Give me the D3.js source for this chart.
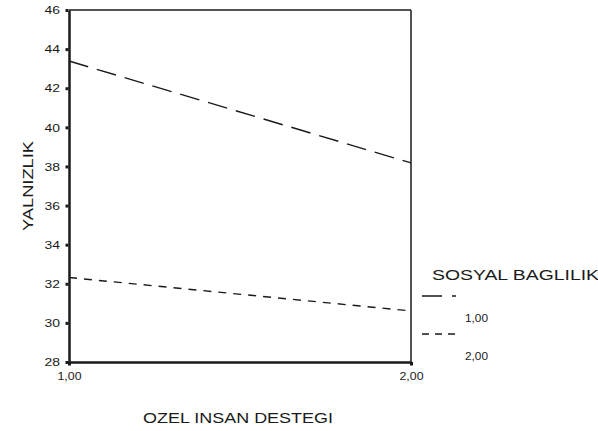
<!DOCTYPE html>
<html><head><meta charset="utf-8">
<script src="https://cdn.jsdelivr.net/npm/d3@7"></script>
<style>html,body{margin:0;padding:0;background:#fff;} svg{display:block;font-family:"Liberation Sans",Arial,sans-serif;}</style>
</head><body><div id="chart"></div>
<script>
const xValues = [1, 2];
const xTickLabels = ["1,00", "2,00"];
const yTickValues = [28, 30, 32, 34, 36, 38, 40, 42, 44, 46];
const seriesNames = ["1,00", "2,00"];
const series1 = [43.39, 38.18];
const series2 = [32.32, 30.61];
const xTitle = "OZEL INSAN DESTEGI";
const yTitle = "YALNIZLIK";
const legendTitle = "SOSYAL BAGLILIK";

const W = 598, H = 431;
const svg = d3.select("#chart").append("svg").attr("width", W).attr("height", H);
const x = d3.scaleLinear().domain([1, 2]).range([69, 411]);
const y = d3.scaleLinear().domain([28, 46]).range([362, 10]);
const ink = "#1a1a1a";

// frame
svg.append("line").attr("x1", x(1)).attr("x2", x(2)).attr("y1", y(46)).attr("y2", y(46)).attr("stroke", ink).attr("stroke-width", 1.5);
svg.append("line").attr("x1", x(2)).attr("x2", x(2)).attr("y1", y(46)).attr("y2", y(28)).attr("stroke", ink).attr("stroke-width", 1.5);

// y axis
const yAxis = svg.append("g").attr("transform", `translate(${x(1)},0)`)
  .call(d3.axisLeft(y).tickValues(yTickValues).tickSize(0).tickPadding(9).tickFormat(d3.format("d")));
yAxis.select(".domain").attr("stroke", ink).attr("stroke-width", 2.5);
yAxis.selectAll("text").attr("font-size", 11.5).attr("fill", ink).attr("font-family", "Liberation Sans, Arial, sans-serif")
  .attr("textLength", 15.5).attr("lengthAdjust", "spacingAndGlyphs");
yAxis.selectAll(".tick").append("rect").attr("x", -3.5).attr("y", -1.5).attr("width", 3).attr("height", 3).attr("fill", ink);

// x axis
const xAxis = svg.append("g").attr("transform", `translate(0,${y(28)})`)
  .call(d3.axisBottom(x).tickValues(xValues).tickSize(0).tickPadding(10).tickFormat((d, i) => xTickLabels[i]));
xAxis.select(".domain").attr("stroke", ink).attr("stroke-width", 2.5);
xAxis.selectAll("text").attr("font-size", 11.5).attr("fill", ink).attr("font-family", "Liberation Sans, Arial, sans-serif")
  .attr("textLength", 24).attr("lengthAdjust", "spacingAndGlyphs");
xAxis.selectAll(".tick").append("rect").attr("x", -1.5).attr("y", 0).attr("width", 3).attr("height", 3.5).attr("fill", ink);

// lines
const line = d3.line().x((d, i) => x(xValues[i])).y(d => y(d));
svg.append("path").datum(series1).attr("d", line).attr("fill", "none").attr("stroke", ink).attr("stroke-width", 1.4).attr("stroke-dasharray", "20,9");
svg.append("path").datum(series2).attr("d", line).attr("fill", "none").attr("stroke", ink).attr("stroke-width", 1.4).attr("stroke-dasharray", "8,7");

// titles
svg.append("text").attr("x", 238).attr("y", 423).attr("text-anchor", "middle").attr("font-size", 15).attr("fill", ink)
  .attr("textLength", 190).attr("lengthAdjust", "spacingAndGlyphs").text(xTitle);
svg.append("text").attr("transform", "translate(33,186) rotate(-90)").attr("text-anchor", "middle").attr("font-size", 15.5).attr("fill", ink)
  .attr("textLength", 90).attr("lengthAdjust", "spacingAndGlyphs").text(yTitle);

// legend
const lg = svg.append("g");
lg.append("text").attr("x", 432).attr("y", 280).attr("font-size", 14).attr("fill", ink)
  .attr("textLength", 167).attr("lengthAdjust", "spacingAndGlyphs").text(legendTitle);
const legendItems = [{name: seriesNames[0], dash: "20,10", ly: 296}, {name: seriesNames[1], dash: "7,6", ly: 334}];
legendItems.forEach(it => {
  lg.append("line").attr("x1", 422).attr("x2", 456).attr("y1", it.ly).attr("y2", it.ly).attr("stroke", ink).attr("stroke-width", 1.4).attr("stroke-dasharray", it.dash);
  lg.append("text").attr("x", 465).attr("y", it.ly + 26).attr("font-size", 11.5).attr("fill", ink)
    .attr("textLength", 23).attr("lengthAdjust", "spacingAndGlyphs").text(it.name);
});
</script></body></html>
